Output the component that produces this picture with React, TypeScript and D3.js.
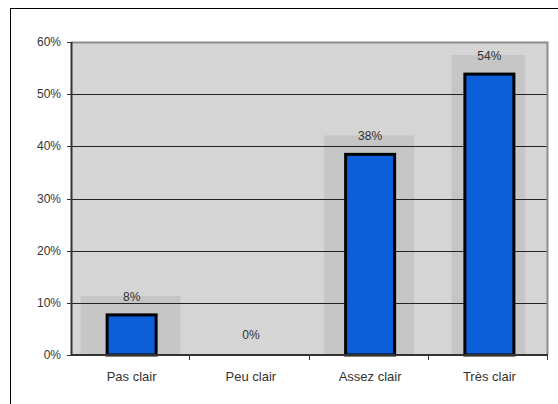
import { useEffect, useRef } from 'react';
import * as d3 from 'd3';

const categories = ['Pas clair', 'Peu clair', 'Assez clair', 'Très clair'];
const values = [7.69, 0, 38.46, 53.85];
const valueLabels = ['8%', '0%', '38%', '54%'];
const yTicks = [0, 10, 20, 30, 40, 50, 60];

const W = 558;
const H = 404;
const margin = { top: 42, right: 10, bottom: 49, left: 71 };

export default function App() {
  const svgRef = useRef<SVGSVGElement>(null);

  useEffect(() => {
    if (!svgRef.current) return;
    const root = d3.select(svgRef.current);
    root.selectAll('*').remove();

    const innerW = W - margin.left - margin.right;
    const innerH = H - margin.top - margin.bottom;

    const x = d3.scaleBand().domain(categories).range([0, innerW]).padding(0);
    const y = d3.scaleLinear().domain([0, 60]).range([innerH, 0]);

    // outer frame (cut by the picture edges)
    root
      .append('rect')
      .attr('x', 10.5)
      .attr('y', 8.5)
      .attr('width', W + 10)
      .attr('height', H + 10)
      .attr('fill', '#fff')
      .attr('stroke', '#000')
      .attr('stroke-width', 1);

    const g = root.append('g').attr('transform', `translate(${margin.left},${margin.top})`);

    g.append('rect')
      .attr('width', innerW)
      .attr('height', innerH)
      .attr('fill', '#d5d5d5');

    // shaded boxes behind bars
    const shadowHalf = [50, 0, 45, 37];
    g.selectAll('rect.shade')
      .data(values)
      .join('rect')
      .attr('class', 'shade')
      .attr('x', (d, i) => x(categories[i])! + x.bandwidth() / 2 - shadowHalf[i])
      .attr('y', (d) => y(d) - 19)
      .attr('width', (d, i) => shadowHalf[i] * 2)
      .attr('height', (d) => innerH - y(d) + 19)
      .attr('fill', '#c6c6c6')
      .attr('opacity', (d, i) => (shadowHalf[i] ? 1 : 0));

    // grid lines
    g.selectAll('line.grid')
      .data(yTicks.filter((t) => t > 0 && t < 60))
      .join('line')
      .attr('class', 'grid')
      .attr('x1', 0)
      .attr('x2', innerW)
      .attr('y1', (d) => Math.round(y(d)) + 0.5)
      .attr('y2', (d) => Math.round(y(d)) + 0.5)
      .attr('stroke', '#222')
      .attr('stroke-width', 1);

    // plot border top/right
    g.append('path')
      .attr('d', `M0,0.5H${innerW - 0.5}V${innerH}`)
      .attr('fill', 'none')
      .attr('stroke', '#8c8c8c')
      .attr('stroke-width', 2);

    // bars
    const barW = 49;
    g.selectAll('rect.bar')
      .data(values)
      .join('rect')
      .attr('class', 'bar')
      .attr('x', (d, i) => x(categories[i])! + x.bandwidth() / 2 - barW / 2 + 1)
      .attr('y', (d) => y(d))
      .attr('width', barW)
      .attr('height', (d) => innerH - y(d))
      .attr('fill', '#0c5fd8')
      .attr('stroke', '#000')
      .attr('stroke-width', (d) => (d > 0 ? 3 : 0));

    // value labels
    g.selectAll('text.val')
      .data(values)
      .join('text')
      .attr('class', 'val')
      .attr('x', (d, i) => x(categories[i])! + x.bandwidth() / 2 + 1)
      .attr('y', (d) => (d > 0 ? y(d) - 14 : y(d) - 16))
      .attr('text-anchor', 'middle')
      .attr('font-family', 'Liberation Sans, Arial, sans-serif')
      .attr('font-size', 12)
      .attr('fill', '#333')
      .text((d, i) => valueLabels[i]);

    // axes lines
    g.append('line')
      .attr('x1', 0.5)
      .attr('x2', 0.5)
      .attr('y1', 0)
      .attr('y2', innerH)
      .attr('stroke', '#333')
      .attr('stroke-width', 2);
    g.append('line')
      .attr('x1', 0)
      .attr('x2', innerW)
      .attr('y1', innerH)
      .attr('y2', innerH)
      .attr('stroke', '#333')
      .attr('stroke-width', 2);

    // y ticks
    g.selectAll('line.ytick')
      .data(yTicks)
      .join('line')
      .attr('class', 'ytick')
      .attr('x1', -4)
      .attr('x2', 0)
      .attr('y1', (d) => Math.round(y(d)) + 0.5)
      .attr('y2', (d) => Math.round(y(d)) + 0.5)
      .attr('stroke', '#333');
    g.selectAll('text.ylab')
      .data(yTicks)
      .join('text')
      .attr('class', 'ylab')
      .attr('x', -10)
      .attr('y', (d) => y(d) + 4)
      .attr('text-anchor', 'end')
      .attr('font-family', 'Liberation Sans, Arial, sans-serif')
      .attr('font-size', 12)
      .attr('fill', '#333')
      .text((d) => `${d}%`);

    // x ticks at band boundaries
    g.selectAll('line.xtick')
      .data(categories.slice(1).concat(['end']))
      .join('line')
      .attr('class', 'xtick')
      .attr('x1', (d, i) => Math.round((i + 1) * x.bandwidth()) - 0.5)
      .attr('x2', (d, i) => Math.round((i + 1) * x.bandwidth()) - 0.5)
      .attr('y1', innerH)
      .attr('y2', innerH + 5)
      .attr('stroke', '#333');
    g.selectAll('text.xlab')
      .data(categories)
      .join('text')
      .attr('class', 'xlab')
      .attr('x', (d) => x(d)! + x.bandwidth() / 2 + 1)
      .attr('y', innerH + 26)
      .attr('text-anchor', 'middle')
      .attr('font-family', 'Liberation Sans, Arial, sans-serif')
      .attr('font-size', 13)
      .attr('fill', '#333')
      .text((d) => d);
  }, []);

  return (
    <svg
      ref={svgRef}
      width={W}
      height={H}
      style={{ position: 'absolute', left: 0, top: 0, display: 'block' }}
    />
  );
}
